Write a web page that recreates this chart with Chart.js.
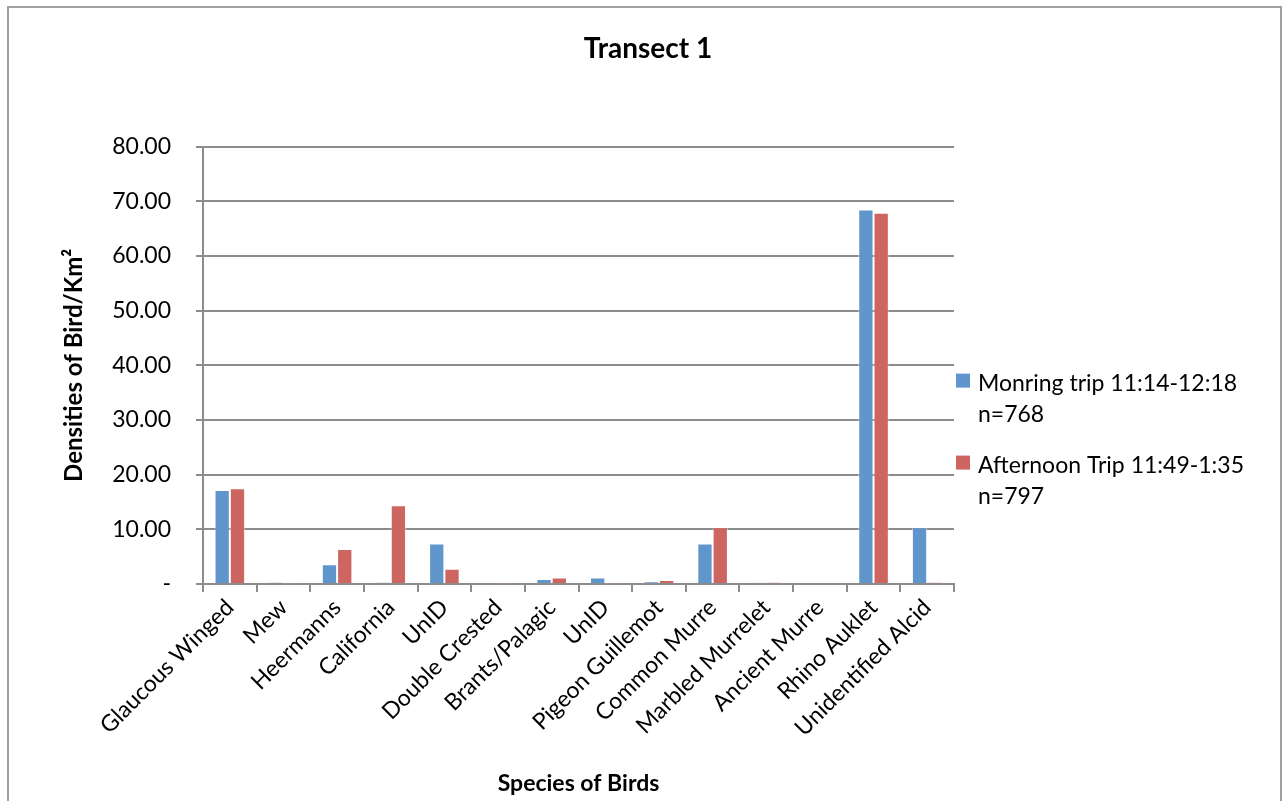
<!DOCTYPE html>
<html>
<head>
<meta charset="utf-8">
<script src="https://cdn.jsdelivr.net/npm/chart.js@4.4.1/dist/chart.umd.min.js"></script>
<style>
    html, body { margin: 0; padding: 0; background: #fff; overflow: hidden; }
    #frame {
        position: absolute; left: 7px; top: 6px; width: 1275px; height: 820px;
        border: 2px solid #a0a0a0; border-bottom: none; box-sizing: border-box;
    }
    #wrap { position: absolute; left: 0; top: 0; width: 1284px; height: 801px; }
</style>
</head>
<body>
<div id="frame"></div>
<div id="wrap"><canvas id="transectChart" width="1284" height="801"></canvas></div>
<script>
// Espécies observadas no transecto
const species = [
    'Glaucous Winged', 'Mew', 'Heermanns', 'California', 'UnID', 'Double Crested',
    'Brants/Palagic', 'UnID', 'Pigeon Guillemot', 'Common Murre', 'Marbled Murrelet',
    'Ancient Murre', 'Rhino Auklet', 'Unidentified Alcid'
];

// Densidades (aves/km²) por viagem
const morningDensity   = [17.2, 0.3, 3.6, 0.3, 7.4, 0.0, 0.9, 1.2, 0.45, 7.4, 0.25, 0.0, 68.5, 10.4];
const afternoonDensity = [17.5, 0.1, 6.4, 14.4, 2.8, 0.1, 1.2, 0.1, 0.75, 10.4, 0.3, 0.0, 67.9, 0.3];

const seriesLabels = [
    ['Monring trip 11:14-12:18', 'n=768'],
    ['Afternoon Trip 11:49-1:35', 'n=797']
];
const seriesColors = ['#6096cb', '#cd6560'];

const yTicks = [0, 10, 20, 30, 40, 50, 60, 70, 80];

const FONT = 'Lato, "Liberation Sans", sans-serif';
const GRID = '#8c8c8c';

// Legenda lateral com rótulos em duas linhas
const sideLegend = {
    id: 'sideLegend',
    afterDraw(chart) {
        const { ctx, chartArea } = chart;
        ctx.save();
        ctx.font = '23px ' + FONT;
        ctx.textBaseline = 'middle';
        chart.data.datasets.forEach((ds, i) => {
            const top = chartArea.top + 227 + i * 82;
            ctx.fillStyle = ds.backgroundColor;
            ctx.fillRect(chartArea.right + 2, top, 14, 14);
            ctx.fillStyle = '#000';
            ds.label.forEach((line, j) => {
                ctx.fillText(line, chartArea.right + 24, top + 10 + j * 31);
            });
        });
        ctx.restore();
    }
};

const ctx = document.getElementById('transectChart');

new Chart(ctx, {
    type: 'bar',
    data: {
        labels: species,
        datasets: [
            {
                label: seriesLabels[0],
                data: morningDensity,
                backgroundColor: seriesColors[0],
                borderColor: 'rgba(255,255,255,0.45)',
                borderWidth: 1,
                borderSkipped: 'bottom'
            },
            {
                label: seriesLabels[1],
                data: afternoonDensity,
                backgroundColor: seriesColors[1],
                borderColor: 'rgba(255,255,255,0.45)',
                borderWidth: 1,
                borderSkipped: 'bottom'
            }
        ]
    },
    options: {
        responsive: false,
        animation: false,
        categoryPercentage: 0.57,
        barPercentage: 1.0,
        layout: { padding: { top: 32, right: 0, bottom: 4, left: 12 } },
        plugins: {
            legend: { display: false },
            tooltip: { enabled: false },
            title: {
                display: true,
                text: 'Transect 1',
                color: '#000',
                font: { family: FONT, size: 28, weight: 'bold' },
                padding: { top: 0, bottom: 81 }
            }
        },
        scales: {
            x: {
                grid: {
                    display: true,
                    offset: true,
                    drawOnChartArea: false,
                    drawTicks: true,
                    tickLength: 8,
                    color: GRID,
                    lineWidth: 2
                },
                border: { display: true, color: GRID, width: 2 },
                ticks: {
                    color: '#000',
                    font: { family: FONT, size: 23 },
                    minRotation: 45,
                    maxRotation: 45,
                    autoSkip: false,
                    padding: 2
                },
                title: {
                    display: true,
                    text: 'Species of Birds',
                    color: '#000',
                    font: { family: FONT, size: 23, weight: 'bold' },
                    padding: { top: 0, bottom: 0 }
                },
                afterFit: (scale) => { scale.height = 213; }
            },
            y: {
                min: 0,
                max: 80,
                afterBuildTicks: (scale) => { scale.ticks = yTicks.map(v => ({ value: v })); },
                grid: {
                    color: GRID,
                    lineWidth: 2,
                    drawTicks: true,
                    tickLength: 7
                },
                border: { display: true, color: GRID, width: 2 },
                ticks: {
                    color: '#000',
                    font: { family: FONT, size: 23 },
                    padding: 25,
                    callback: (v) => v === 0 ? '-' : Number(v).toFixed(2)
                },
                title: {
                    display: true,
                    text: 'Densities of Bird/Km²',
                    color: '#000',
                    font: { family: FONT, size: 24, weight: 'bold' },
                    padding: { top: 48, bottom: 8 }
                },
                afterFit: (scale) => { scale.width = 191; }
            },
            // eixo vazio à direita: reserva o espaço da legenda
            legendSpace: {
                position: 'right',
                display: true,
                grid: { display: false, drawTicks: false },
                border: { display: false },
                ticks: { display: false },
                afterFit: (scale) => { scale.width = 330; }
            }
        }
    },
    plugins: [sideLegend]
});
</script>
</body>
</html>
